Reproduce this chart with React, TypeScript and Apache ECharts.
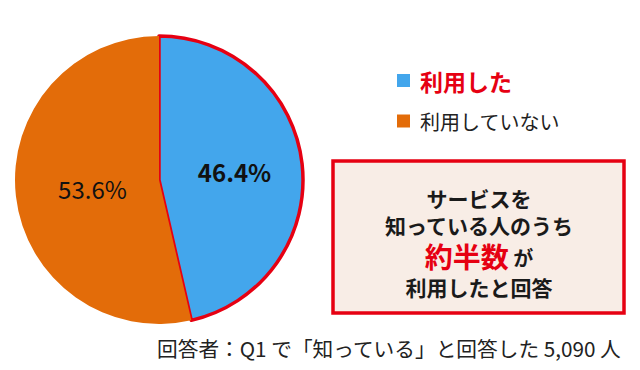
import React, { useEffect, useRef } from "react";
import * as echarts from "echarts";

const categories = ["利用した", "利用していない"];
const values = [46.4, 53.6];
const colors = ["#43A6EC", "#E36C09"];
const boxLines = ["サービスを", "知っている人のうち", "約半数", "が", "利用したと回答"];
const footnote = "回答者：Q1 で「知っている」と回答した 5,090 人";

const FONT = "'Noto Sans CJK JP', 'Noto Sans', sans-serif";

export default function App() {
  const ref = useRef<HTMLDivElement>(null);
  useEffect(() => {
    if (!ref.current) return;
    const chart = echarts.init(ref.current, null, { renderer: "svg" });
    chart.setOption({
      animation: false,
      backgroundColor: "#ffffff",
      textStyle: { fontFamily: FONT },
      legend: {
        orient: "vertical",
        left: 392,
        top: 64,
        icon: "rect",
        itemWidth: 13,
        itemHeight: 13,
        itemGap: 19,
        selectedMode: false,
        itemStyle: { borderWidth: 0 },
        data: [
          { name: categories[0], itemStyle: { borderWidth: 0 }, textStyle: { color: "#E60012", fontSize: 23, fontWeight: "bold", fontFamily: FONT, padding: [0, 0, 0, 5] } },
          { name: categories[1], itemStyle: { borderWidth: 0 }, textStyle: { color: "#222222", fontSize: 20, fontFamily: FONT, padding: [0, 0, 0, 5] } },
        ],
      },
      series: [
        {
          type: "pie",
          center: [159, 180],
          radius: [0, 144],
          startAngle: 90,
          clockwise: true,
          silent: true,
          label: {
            show: true,
            position: "inner",
            fontSize: 24,
            fontFamily: FONT,
            color: "#111111",
            formatter: (p: any) => p.value.toFixed(1) + "%",
          },
          labelLine: { show: false },
          data: categories.map((c, i) => ({
            name: c,
            value: values[i],
            itemStyle: i === 0
              ? { color: colors[i], borderColor: "#E60012", borderWidth: 3.5 }
              : { color: colors[i], borderWidth: 0 },
            label: i === 0
              ? { fontWeight: "bold", padding: [16, 0, 0, 2] }
              : { fontWeight: "normal", padding: [20, 0, 0, 16] },
          })),
        },
      ],
      graphic: [
        {
          type: "rect",
          shape: { x: 333, y: 161, width: 291, height: 152 },
          style: { fill: "#F8EDE6", stroke: "#E60012", lineWidth: 3.5 },
        },
        {
          type: "text",
          x: 479,
          y: 184,
          style: {
            text:
              "{n|" + boxLines[0] + "}\n{n|" + boxLines[1] + "}\n{big|" + boxLines[2] + "}{s| " + boxLines[3] + "}\n{n|" + boxLines[4] + "}",
            align: "center",
            verticalAlign: "top",
            rich: {
              n: { fill: "#1a1a1a", fontSize: 21, fontWeight: "bold", fontFamily: FONT, lineHeight: 27, align: "center", verticalAlign: "middle" },
              big: { fill: "#E60012", fontSize: 28, fontWeight: "bold", fontFamily: FONT, lineHeight: 35, verticalAlign: "middle" },
              s: { fill: "#1a1a1a", fontSize: 20, fontWeight: "bold", fontFamily: FONT, lineHeight: 35, verticalAlign: "middle", padding: [4, 0, 0, 0] },
            },
          },
        },
        {
          type: "text",
          x: 157,
          y: 348,
          style: { text: footnote, fill: "#222222", fontSize: 20.7, fontFamily: FONT, align: "left", verticalAlign: "middle" },
        },
      ],
    });
    return () => chart.dispose();
  }, []);
  return <div ref={ref} style={{ position: "absolute", left: 0, top: 0, width: 640, height: 370 }} />;
}
